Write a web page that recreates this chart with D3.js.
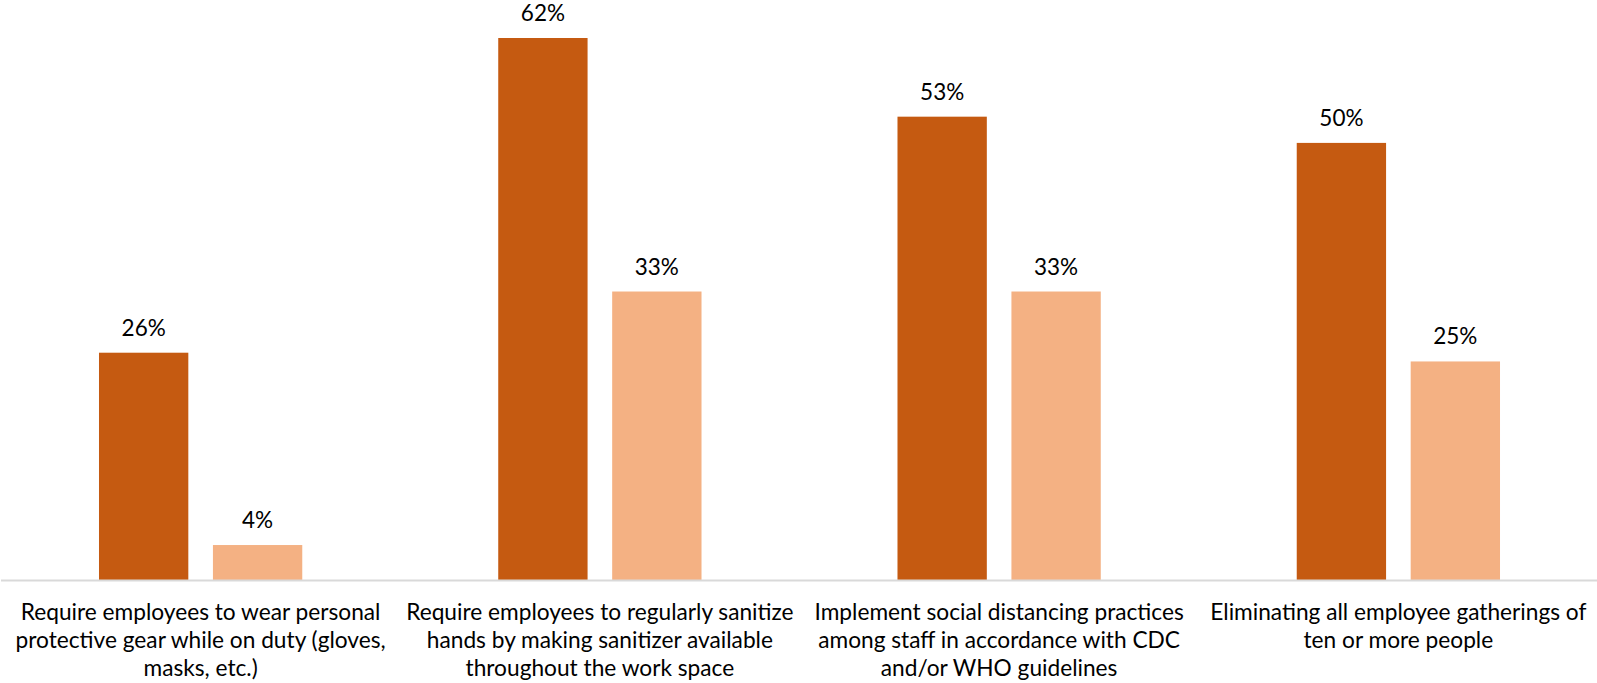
<!DOCTYPE html>
<html>
<head>
<meta charset="utf-8">
<script src="https://cdn.jsdelivr.net/npm/d3@7"></script>
<style>
  html, body { margin: 0; padding: 0; background: #fff; }
  svg { display: block; }
  text { font-family: "Lato", "Open Sans", sans-serif; fill: #000; }
</style>
</head>
<body>
<svg id="chart" width="1597" height="683"></svg>
<script>
// Workplace measures, each label split into the lines it is printed on
const categories = [
  ["Require employees to wear personal", "protective gear while on duty (gloves,", "masks, etc.)"],
  ["Require employees to regularly sanitize", "hands by making sanitizer available", "throughout the work space"],
  ["Implement social distancing practices", "among staff in accordance with CDC", "and/or WHO guidelines"],
  ["Eliminating all employee gatherings of", "ten or more people"]
];
const seriesKeys = ["first", "second"];
const valuesFirst = [26, 62, 53, 50];   // percent
const valuesSecond = [4, 33, 33, 25];   // percent

const colors = { first: "#C55A11", second: "#F4B183" };

const width = 1597, height = 683;
const margin = { top: 38, bottom: 103 };
const baseY = height - margin.bottom;

const rows = categories.map((c, i) => ({
  idx: i,
  lines: c,
  first: valuesFirst[i],
  second: valuesSecond[i]
}));

const svg = d3.select("#chart");

const x0 = d3.scaleBand()
  .domain(rows.map(r => r.idx))
  .range([0, width])
  .padding(0);

const x1 = d3.scaleBand()
  .domain(seriesKeys)
  .range([0, x0.bandwidth()])
  .paddingInner(0.216)
  .paddingOuter(0.86);

const y = d3.scaleLinear()
  .domain([0, 62])
  .range([baseY, margin.top]);

const groups = svg.append("g")
  .selectAll("g")
  .data(rows)
  .join("g")
  .attr("transform", d => `translate(${x0(d.idx) + 1},0)`);

groups.selectAll("rect")
  .data(d => seriesKeys.map(k => ({ key: k, value: d[k] })))
  .join("rect")
  .attr("x", d => x1(d.key))
  .attr("width", x1.bandwidth())
  .attr("y", d => y(d.value))
  .attr("height", d => baseY - y(d.value))
  .attr("fill", d => colors[d.key]);

groups.selectAll("text.value")
  .data(d => seriesKeys.map(k => ({ key: k, value: d[k] })))
  .join("text")
  .attr("class", "value")
  .attr("x", d => x1(d.key) + x1.bandwidth() / 2)
  .attr("y", d => y(d.value) - 17)
  .attr("text-anchor", "middle")
  .style("font-size", "22.5px")
  .text(d => d.value + "%");

// Category axis: plain baseline, no ticks
const xAxis = d3.axisBottom(x0).tickSize(0).tickFormat("");
const axisG = svg.append("g")
  .attr("transform", `translate(0,${baseY + 0.5})`)
  .call(xAxis);
axisG.select(".domain")
  .attr("stroke", "#D9D9D9")
  .attr("stroke-width", 2)
  .attr("d", `M1,0H${width}`);

// Wrapped category labels under the axis
const labelG = svg.append("g");
rows.forEach(r => {
  const t = labelG.append("text")
    .attr("text-anchor", "middle")
    .attr("x", x0(r.idx) + x0.bandwidth() / 2 + 1)
    .attr("y", baseY + 39.5)
    .style("font-size", "22.7px");
  r.lines.forEach((line, j) => {
    t.append("tspan")
      .attr("x", x0(r.idx) + x0.bandwidth() / 2 + 1)
      .attr("dy", j === 0 ? 0 : 28)
      .text(line);
  });
});
</script>
</body>
</html>
